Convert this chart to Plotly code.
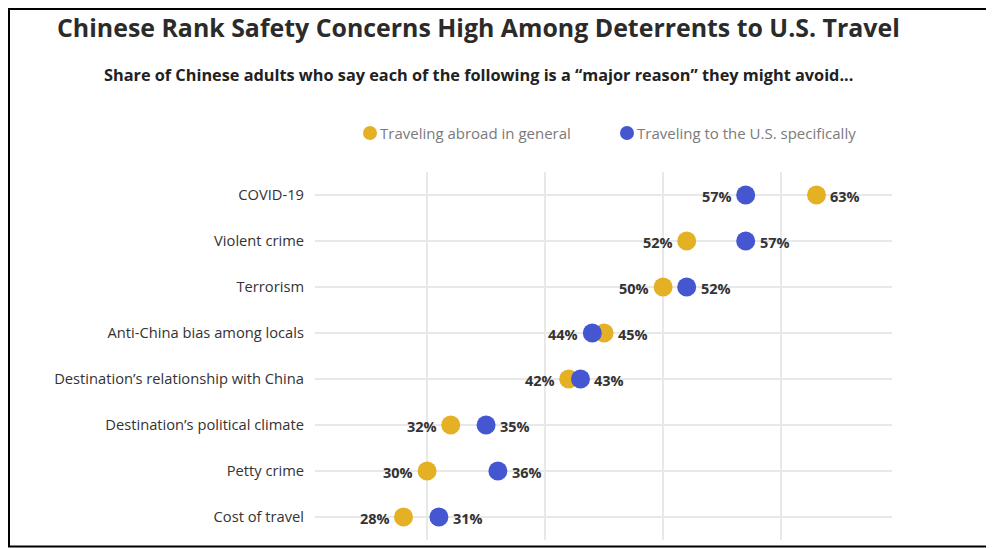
import plotly.graph_objects as go

categories = ["COVID-19", "Violent crime", "Terrorism", "Anti-China bias among locals",
              "Destination’s relationship with China", "Destination’s political climate",
              "Petty crime", "Cost of travel"]
abroad_general = [63, 52, 50, 45, 42, 32, 30, 28]
us_specific = [57, 57, 52, 44, 43, 35, 36, 31]
series_names = ["Traveling abroad in general", "Traveling to the U.S. specifically"]
x_ticks = [30, 40, 50, 60]

YELLOW = "#E4B125"
BLUE = "#4556D1"
FONT = "Open Sans"

# page offset of the plot div (browser default body margin)
OFF = 8
W, H = 994 - OFF, 548 - OFF
# plot area in page pixels: x 315..892, y 172..540
ML, MR, MT, MB = 315 - OFF, W - (892 - OFF), 172 - OFF, H - (540 - OFF)
PW, PH = W - ML - MR, H - MT - MB


def px_x(p):
    return (p - OFF - ML) / PW


def px_y(p):
    return (H - MB - (p - OFF)) / PH


fig = go.Figure()
for vals, other, color, name in [(abroad_general, us_specific, YELLOW, series_names[0]),
                                 (us_specific, abroad_general, BLUE, series_names[1])]:
    fig.add_trace(go.Scatter(
        x=vals, y=categories, mode="markers", name=name,
        marker=dict(color=color, size=19, line=dict(width=0)),
        cliponaxis=False, showlegend=False,
    ))
    # value labels: smaller value labelled on the left, larger on the right
    for v, o, cat in zip(vals, other, categories):
        left = v <= o
        fig.add_annotation(x=v, y=cat, xref="x", yref="y", text=f"<b>{v}%</b>",
                           showarrow=False, xanchor="right" if left else "left",
                           yanchor="middle", xshift=-12 if left else 12, yshift=-1,
                           font=dict(family=FONT, size=14.5, color="#333333"))

fig.update_layout(
    width=W, height=H,
    margin=dict(l=ML, r=MR, t=MT, b=MB, autoexpand=False),
    paper_bgcolor="white", plot_bgcolor="white",
    font=dict(family=FONT, color="#333333"),
    xaxis=dict(range=[20.5, 69.4], tickvals=x_ticks, showticklabels=False,
               showgrid=True, gridcolor="#e8e8e8", gridwidth=1.5, zeroline=False,
               showline=False, fixedrange=True),
    yaxis=dict(categoryorder="array", categoryarray=categories,
               range=[len(categories) - 0.5, -0.5],
               showgrid=True, gridcolor="#e8e8e8", gridwidth=1.5, zeroline=False,
               showline=False, ticklabelstandoff=10, automargin=False,
               tickfont=dict(family=FONT, size=14.7, color="#333333")),
    showlegend=False,
)

# Title and subtitle
fig.add_annotation(xref="paper", yref="paper", x=px_x(478), y=px_y(27),
                   text="<b>Chinese Rank Safety Concerns High Among Deterrents to U.S. Travel</b>",
                   showarrow=False, xanchor="center", yanchor="middle",
                   font=dict(family=FONT, size=24.9, color="#2b2b2b"))
fig.add_annotation(xref="paper", yref="paper", x=px_x(478), y=px_y(75),
                   text="<b>Share of Chinese adults who say each of the following is a “major reason” they might avoid...</b>",
                   showarrow=False, xanchor="center", yanchor="middle",
                   font=dict(family=FONT, size=16.3, color="#222222"))

# Legend (manual): dot shapes plus text
for name, color, dot_x in [(series_names[0], YELLOW, 370), (series_names[1], BLUE, 627)]:
    fig.add_shape(type="circle", xref="paper", yref="paper",
                  xsizemode="pixel", ysizemode="pixel",
                  xanchor=px_x(dot_x), yanchor=px_y(133),
                  x0=-7, x1=7, y0=-7, y1=7,
                  fillcolor=color, line=dict(width=0))
    fig.add_annotation(xref="paper", yref="paper", x=px_x(dot_x + 8), y=px_y(133),
                       text=name, showarrow=False, xanchor="left", yanchor="middle",
                       font=dict(family=FONT, size=15, color="#7a7a7a"))

# Frame border
fig.add_shape(type="rect", xref="paper", yref="paper",
              x0=px_x(OFF + 1), x1=px_x(990), y0=px_y(546.5), y1=px_y(OFF + 1),
              line=dict(color="black", width=2), fillcolor="rgba(0,0,0,0)", layer="above")

fig.write_html("out.html")
